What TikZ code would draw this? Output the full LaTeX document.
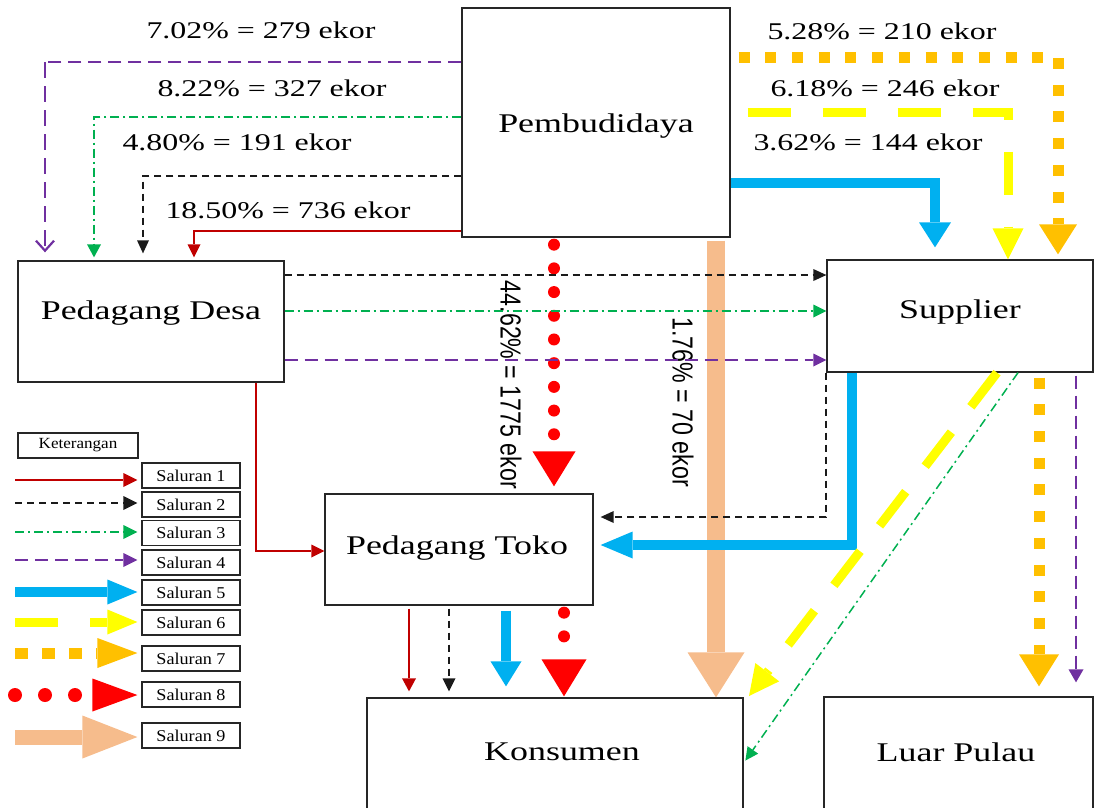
\documentclass[tikz,border=0pt]{standalone}
\usepackage{fontspec}
\setmainfont{Liberation Serif}
\newfontfamily\wideserif[FakeStretch=1.33]{Liberation Serif}
\newfontfamily\narrowsans[FakeStretch=0.8]{Liberation Sans}
\newfontfamily\legserif[FakeStretch=1.1]{Liberation Serif}
\usetikzlibrary{arrows.meta}
\definecolor{c1}{HTML}{C00000}
\definecolor{c2}{HTML}{1A1A1A}
\definecolor{c3}{HTML}{00B050}
\definecolor{c4}{HTML}{7030A0}
\definecolor{c5}{HTML}{00B0F0}
\definecolor{c6}{HTML}{FFFF00}
\definecolor{c7}{HTML}{FFC000}
\definecolor{c8}{HTML}{FF0000}
\definecolor{c9}{HTML}{F6BC8C}
\tikzset{
  box/.style={draw=black!85, line width=1.3pt, rectangle, inner sep=0pt},
  btext/.style={font=\wideserif\fontsize{27pt}{30pt}\selectfont, inner sep=0pt},
  ptext/.style={font=\wideserif\fontsize{24pt}{26pt}\selectfont, inner sep=0pt},
  rtext/.style={font=\narrowsans\fontsize{29pt}{30pt}\selectfont, rotate=-90, inner sep=0pt},
  lbox/.style={draw=black!85, line width=1.2pt, rectangle, inner sep=0pt, minimum height=25pt, font=\legserif\fontsize{16.5pt}{18pt}\selectfont},
  ahead/.style 2 args={-{Triangle[length=#1,width=#2,line width=0pt]}},
  s1/.style={draw=c1, line width=1.5pt},
  s2/.style={draw=c2, line width=1.5pt, dash pattern=on 7pt off 5pt},
  s3/.style={draw=c3, line width=1.5pt, dash pattern=on 9pt off 4pt on 2pt off 4pt},
  s4/.style={draw=c4, line width=1.5pt, dash pattern=on 13pt off 7pt},
  s5/.style={draw=c5, line width=10pt},
  s6/.style={draw=c6, line width=9pt, dash pattern=on 43pt off 32pt},
  s7/.style={draw=c7, line width=11pt, dash pattern=on 11pt off 15.7pt},
  s8/.style={draw=c8, line width=12pt, line cap=round, dash pattern=on 0pt off 23.7pt},
  s9/.style={draw=c9, line width=18pt},
}
\begin{document}
\begin{tikzpicture}[x=1pt,y=-1pt]
\useasboundingbox (0,0) rectangle (1094,807);

% boxes
\node[box, minimum width=268pt, minimum height=229pt] (pemb) at (596,122.5) {};
\node[btext] (pembT) at (596,126) {Pembudidaya};
\node[box, minimum width=266pt, minimum height=121pt] (desa) at (151,321.5) {};
\node[btext] (desaT) at (151,313) {Pedagang Desa};
\node[box, minimum width=266pt, minimum height=112pt] (sup) at (960,316) {};
\node[btext] (supT) at (960,312) {Supplier};
\node[box, minimum width=268pt, minimum height=111pt] (toko) at (459,549.5) {};
\node[btext] (tokoT) at (457,548) {Pedagang Toko};
\node[box, minimum width=376pt, minimum height=115pt] (kons) at (555,755.5) {};
\node[btext] (konsT) at (562,752) {Konsumen};
\node[box, minimum width=269pt, minimum height=115pt] (luar) at (958.5,754.5) {};
\node[btext] (luarT) at (956,752) {Luar Pulau};

% percentage labels
\node[ptext] (l4) at (261,30) {7.02\% = 279 ekor};
\node[ptext] (l3) at (272,88) {8.22\% = 327 ekor};
\node[ptext] (l2) at (237,142) {4.80\% = 191 ekor};
\node[ptext] (l1) at (288,210) {18.50\% = 736 ekor};
\node[ptext] (r7) at (882,31) {5.28\% = 210 ekor};
\node[ptext] (r6) at (885,88) {6.18\% = 246 ekor};
\node[ptext] (r5) at (868,142) {3.62\% = 144 ekor};
\node[rtext] (v8) at (511,385) {44.62\% = 1775 ekor};
\node[rtext] (v9) at (683,402) {1.76\% = 70 ekor};

% Pembudidaya -> Pedagang Desa
\coordinate (k4) at (45,62);
\draw[s4] (pemb.west |- k4) -- (k4);
\draw[s4, line width=2.6pt, dash pattern=on 16pt off 8pt, -{Straight Barb[length=10pt,width=18pt,line width=2.2pt]}, shorten >=8pt] (k4) -- (desa.north -| k4);
\coordinate (k3) at (94,117);
\draw[s3, ahead={13pt}{14pt}, shorten >=3pt] (pemb.west |- k3) -| (desa.north -| k3);
\coordinate (k2) at (143,176);
\draw[s2, ahead={13pt}{12pt}, shorten >=7pt] (pemb.west |- k2) -| (desa.north -| k2);
\coordinate (k1) at (194,231);
\draw[s1, ahead={13pt}{13pt}, shorten >=3pt] (pemb.west |- k1) -| (desa.north -| k1);

% Pembudidaya -> Supplier
\coordinate (k7) at (1058,57);
\draw[s7, ahead={30pt}{38pt}, shorten <=8pt, shorten >=5pt] (pemb.east |- k7) -| (sup.north -| k7);
\coordinate (k6) at (1008,112);
\draw[s6, ahead={31pt}{31pt}, shorten <=17pt] (pemb.east |- k6) -| (sup.north -| k6);
\coordinate (k5) at (935,183);
\draw[s5, ahead={25pt}{32pt}, shorten >=12pt] (pemb.east |- k5) -| (sup.north -| k5);

% Pembudidaya -> Pedagang Toko / Konsumen
\coordinate (k8) at (554,0);
\draw[s8, ahead={35pt}{43pt}, shorten <=7pt, shorten >=7pt] (pemb.south -| k8) -- (toko.north -| k8);
\coordinate (k9) at (716,0);
\draw[s9, ahead={45pt}{57pt}, shorten <=3pt] (pemb.south -| k9) -- (kons.north -| k9);

% Pedagang Desa -> Supplier
\coordinate (d2) at (0,275);
\draw[s2, ahead={13pt}{12pt}] (desa.east |- d2) -- (sup.west |- d2);
\coordinate (d3) at (0,311);
\draw[s3, ahead={13pt}{13pt}] (desa.east |- d3) -- (sup.west |- d3);
\coordinate (d4) at (0,360);
\draw[s4, ahead={13pt}{13pt}] (desa.east |- d4) -- (sup.west |- d4);

% Pedagang Desa -> Pedagang Toko
\coordinate (t1) at (256,551);
\draw[s1, ahead={13pt}{13pt}] (desa.south -| t1) |- (toko.west |- t1);

% Supplier -> Pedagang Toko
\coordinate (t2) at (826,517);
\draw[s2, ahead={13pt}{12pt}, shorten >=7pt] (sup.south -| t2) |- (toko.east |- t2);
\coordinate (t5) at (852,545);
\draw[s5, ahead={32pt}{27pt}, shorten >=7pt] (sup.south -| t5) |- (toko.east |- t5);

% Supplier -> Konsumen
\coordinate (y6) at (997,0);
\coordinate (y6e) at (749,696);
\draw[s6, ahead={30pt}{30pt}] (sup.south -| y6) -- (y6e);
\coordinate (g3) at (1018,0);
\coordinate (g3e) at (0,763);
\draw[s3, ahead={13pt}{13pt}, shorten >=3pt] (sup.south -| g3) -- (kons.east |- g3e);

% Supplier -> Luar Pulau
\coordinate (o7) at (1039,0);
\draw[s7, ahead={32pt}{40pt}, shorten <=5pt, shorten >=10pt] (sup.south -| o7) -- (luar.north -| o7);
\coordinate (p4) at (1076,0);
\draw[s4, ahead={13pt}{15pt}, shorten <=3pt, shorten >=14pt] (sup.south -| p4) -- (luar.north -| p4);

% Pedagang Toko -> Konsumen
\coordinate (q1) at (409,0);
\draw[s1, ahead={13pt}{14pt}, shorten <=3pt, shorten >=6pt] (toko.south -| q1) -- (kons.north -| q1);
\coordinate (q2) at (449,0);
\draw[s2, ahead={13pt}{13pt}, shorten <=3pt, shorten >=6pt] (toko.south -| q2) -- (kons.north -| q2);
\coordinate (q5) at (506,0);
\draw[s5, ahead={25pt}{31pt}, shorten <=5pt, shorten >=11pt] (toko.south -| q5) -- (kons.north -| q5);
\coordinate (q8) at (564,0);
\draw[s8, ahead={37pt}{45pt}, shorten <=7pt, shorten >=1pt] (toko.south -| q8) -- (kons.north -| q8);

% Legend
\node[lbox, minimum width=120pt, font=\legserif\fontsize{15.5pt}{17pt}\selectfont] (ket) at (78,445.5) {Keterangan};
\node[lbox, minimum width=98pt] (sl1) at (191,475.5) {Saluran 1};
\node[lbox, minimum width=98pt] (sl2) at (191,504.5) {Saluran 2};
\node[lbox, minimum width=98pt] (sl3) at (191,533) {Saluran 3};
\node[lbox, minimum width=98pt] (sl4) at (191,562.5) {Saluran 4};
\node[lbox, minimum width=98pt] (sl5) at (191,592.5) {Saluran 5};
\node[lbox, minimum width=98pt] (sl6) at (191,622.5) {Saluran 6};
\node[lbox, minimum width=98pt] (sl7) at (191,658.5) {Saluran 7};
\node[lbox, minimum width=98pt] (sl8) at (191,694.5) {Saluran 8};
\node[lbox, minimum width=98pt] (sl9) at (191,735.5) {Saluran 9};

\coordinate (a1) at (15,480);
\draw[s1, ahead={14pt}{14pt}, shorten >=4pt] (a1) -- (sl1.west |- a1);
\coordinate (a2) at (15,503);
\draw[s2, ahead={14pt}{14pt}, shorten >=4pt] (a2) -- (sl2.west |- a2);
\coordinate (a3) at (15,532);
\draw[s3, ahead={14pt}{14pt}, shorten >=4pt] (a3) -- (sl3.west |- a3);
\coordinate (a4) at (15,560);
\draw[s4, ahead={14pt}{14pt}, shorten >=4pt] (a4) -- (sl4.west |- a4);
\coordinate (a5) at (15,592);
\draw[s5, ahead={30pt}{25pt}, shorten >=4pt] (a5) -- (sl5.west |- a5);
\coordinate (a6) at (15,622);
\draw[s6, ahead={30pt}{25pt}, shorten >=4pt] (a6) -- (sl6.west |- a6);
\coordinate (a7) at (15,653);
\draw[s7, dash pattern=on 13pt off 14pt, ahead={40pt}{30pt}, shorten >=4pt] (a7) -- (sl7.west |- a7);
\coordinate (a8) at (15,695);
\draw[s8, line width=14pt, dash pattern=on 0pt off 30pt, ahead={45pt}{33pt}, shorten >=4pt] (a8) -- (sl8.west |- a8);
\coordinate (a9) at (15,737);
\draw[s9, line width=15pt, ahead={55pt}{43pt}, shorten >=4pt] (a9) -- (sl9.west |- a9);
\end{tikzpicture}
\end{document}
